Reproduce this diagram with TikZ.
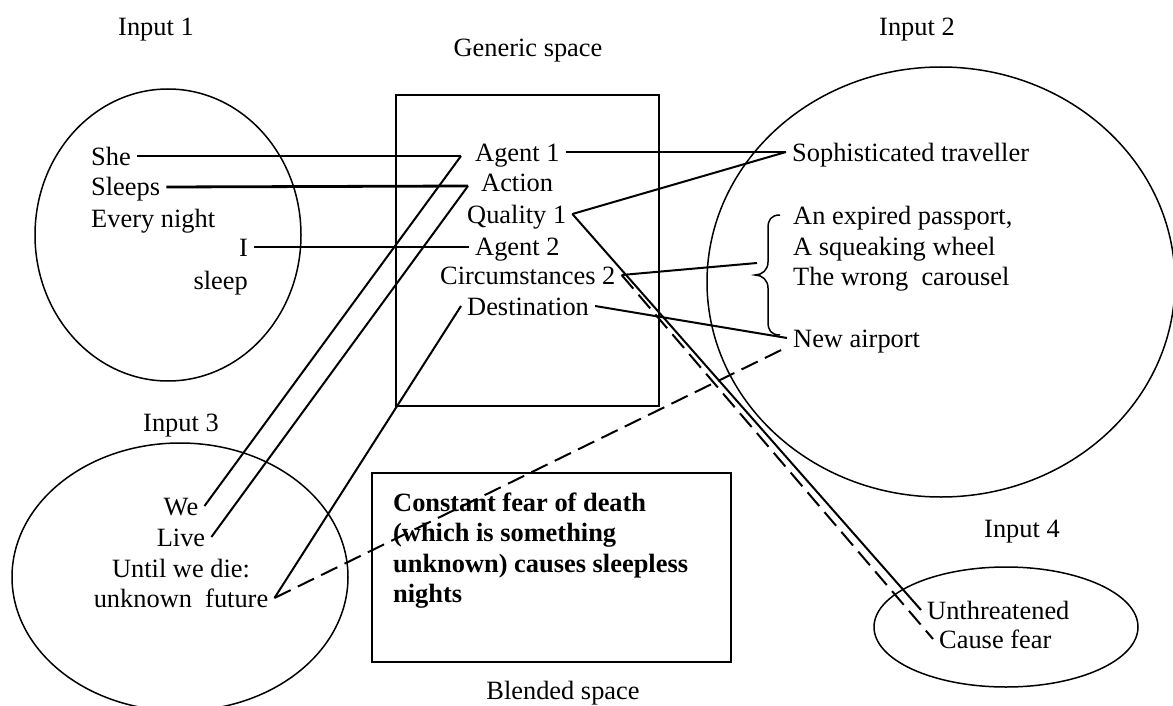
\documentclass[tikz,border=0pt]{standalone}
\usepackage{fontspec}
\setmainfont{Liberation Serif}
\newcommand\fsz{\fontsize{26.4}{30}\selectfont}
\begin{document}
\begin{tikzpicture}[x=1pt,y=-1pt,
  txt/.style={font=\fsz, inner xsep=6pt, inner ysep=0pt, text height=18pt, text depth=0pt},
  lbl/.style={font=\fsz, inner sep=0pt, text height=18pt, text depth=0pt},
  bld/.style={font=\fsz\bfseries, inner sep=0pt, anchor=base west},
  outline/.style={line width=1.5pt},
  heavyconn/.style={line width=2.8pt},
  conn/.style={line width=2pt},
  dashconn/.style={line width=2pt, dash pattern=on 18pt off 8pt}]
\useasboundingbox (0,0) rectangle (1173,706);
\clip (0,0) rectangle (1173,706);

% spaces
\draw[outline] (168,235) ellipse [x radius=133, y radius=146];
\draw[outline] (941,282) ellipse [x radius=234, y radius=215];
\draw[outline] (180,577) ellipse [x radius=168, y radius=134];
\draw[outline] (1006,627) ellipse [x radius=132, y radius=60];
\draw[outline] (396,95) rectangle (659,406);
\draw[outline] (372,473) rectangle (731,662);

% titles
\node[lbl] (in1) at (156,27) {Input 1};
\node[lbl] (gen) at (528,48) {Generic space};
\node[lbl] (in2) at (917,27) {Input 2};
\node[lbl] (in3) at (181,422) {Input 3};
\node[lbl] (in4) at (1022,528) {Input 4};
\node[lbl] (blend) at (563,690) {Blended space};

% input 1
\node[txt, anchor=west] (she) at (85,156) {She};
\node[txt, anchor=west] (sleeps) at (85,187) {Sleeps};
\node[txt, anchor=west] (every) at (85,218) {Every night};
\node[txt, anchor=east] (i) at (254,247) {I};
\node[txt, anchor=east] (sleep) at (254,280) {sleep};

% generic space
\node[txt, anchor=west] (ag1) at (469,152) {Agent 1};
\node[txt, anchor=west] (act) at (475,183) {Action};
\node[txt, anchor=west] (qual) at (461,214) {Quality 1};
\node[txt, anchor=west] (ag2) at (469,246) {Agent 2};
\node[txt, anchor=west] (circ) at (434,275) {Circumstances 2};
\node[txt, anchor=west] (dest) at (461,306) {Destination};

% input 2
\node[txt, anchor=west] (soph) at (786,152) {Sophisticated traveller};
\node[txt, anchor=west] (exp) at (787,215) {An expired passport,};
\node[txt, anchor=west] (squ) at (787,246) {A squeaking wheel};
\node[txt, anchor=west] (wrong) at (787,276) {The wrong~ carousel};
\node[txt, anchor=west] (air) at (787,338) {New airport};

% input 3
\node[txt] (we) at (181,506) {We};
\node[txt] (live) at (181,537) {Live};
\node[txt] (until) at (181,568) {Until we die:};
\node[txt] (fut) at (181,598) {unknown~ future};

% input 4
\node[txt, anchor=west] (unth) at (921,610) {Unthreatened};
\node[txt, anchor=west] (cause) at (933,639) {Cause fear};

% blended space
\node[bld] (bl1) at (393,511) {Constant fear of death};
\node[bld] (bl2) at (393,541) {(which is something};
\node[bld] (bl3) at (393,572) {unknown) causes sleepless};
\node[bld] (bl4) at (393,602) {nights};

% brace
\draw[outline] (780,215) .. controls (771,215) and (768,220) .. (768,228) -- (768,262)
  .. controls (768,270) and (762,275) .. (755,275)
  .. controls (762,275) and (768,280) .. (768,288) -- (768,322)
  .. controls (768,330) and (771,335) .. (780,335);

% bend points
\coordinate (k1) at (461,156);
\coordinate (k2) at (468,186);
\coordinate (bt) at (757,263);

% connectors
\draw[heavyconn] (she.east) -- (k1);
\draw[conn] (k1) -- (we.east);
\draw[heavyconn] (sleeps.east) -- (k2);
\draw[conn] (k2) -- (live.east);
\draw[heavyconn] (i.east) -- (i.east -| ag2.west);
\draw[heavyconn] (ag1.east) -- (soph.west);
\draw[conn] (qual.east) -- (soph.west);
\draw[conn] (qual.east) -- (unth.west);
\draw[conn] (circ.east) -- (bt);
\draw[dashconn] (circ.east) -- (cause.west);
\draw[conn] (dest.east) -- (air.west);
\draw[conn] (dest.west) -- (fut.east);
\draw[dashconn] (fut.east) -- (air.south west);
\end{tikzpicture}
\end{document}
